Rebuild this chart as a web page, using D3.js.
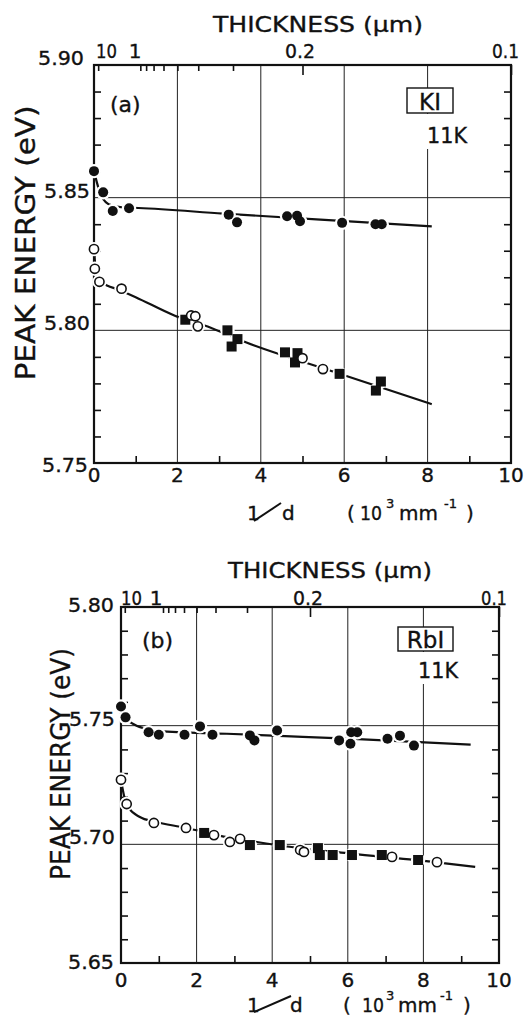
<!DOCTYPE html>
<html><head><meta charset="utf-8">
<script src="https://cdn.jsdelivr.net/npm/d3@7"></script>
<style>
body{margin:0;background:#fff}
svg{display:block}
text{font-family:"DejaVu Sans","Liberation Sans",Arial,sans-serif;fill:#111;stroke:#111;stroke-width:0.35}
</style>
</head><body>
<svg id="c" width="530" height="1019"></svg>
<script>
// ---------- shared axis data ----------
const xMajorTicks=[0,2,4,6,8,10];
const xGridValues=[2,4,6,8];
const xMinorValues=[1,3,5,7,9];
const thicknessLabels=["10","1","0.2","0.1"];
const thicknessLabelValues=[10,1,0.2,0.1];
const thicknessMinor=[10,0.9,0.8,0.7,0.6,0.5,0.4,0.3];
const thicknessLong=[0.2,0.1];

// ---------- (a) KI ----------
const kiYLabels=["5.90","5.85","5.80","5.75"];
const kiYLabelValues=[5.90,5.85,5.80,5.75];
const kiYGrid=[5.85,5.80];
const kiYMinor=[5.89,5.88,5.87,5.86,5.84,5.83,5.82,5.81,5.79,5.78,5.77,5.76];
const kiFilledCircles=[[0,5.860],[0.22,5.852],[0.45,5.845],[0.84,5.846],[3.23,5.8436],[3.43,5.8407],[4.63,5.843],[4.87,5.8432],[4.94,5.8411],[5.95,5.8405],[6.75,5.840],[6.9,5.840]];
const kiOpenCircles=[[0,5.8306],[0.02,5.8232],[0.13,5.8183],[0.66,5.8157],[2.33,5.8056],[2.43,5.8053],[2.49,5.8015],[5.0,5.7895],[5.49,5.7854]];
const kiSquares=[[2.19,5.804],[3.2,5.800],[3.44,5.7967],[3.3,5.7939],[4.58,5.7917],[4.88,5.7914],[4.82,5.7879],[5.89,5.7836],[6.88,5.7807],[6.76,5.7773]];
const kiFitUpper=[[0,5.860],[0.12,5.853],[0.35,5.8475],[0.7,5.8463],[1.07,5.8461],[3.1,5.844],[5.43,5.8417],[8.1,5.8392]];
const kiFitLower=[[0,5.831],[0.05,5.822],[0.2,5.818],[0.6,5.8153],[1.0,5.8125],[1.94,5.8055],[2.8,5.801],[3.64,5.7955],[5.49,5.7857],[8.1,5.7722]];

// ---------- (b) RbI ----------
const rbiYLabels=["5.80","5.75","5.70","5.65"];
const rbiYLabelValues=[5.80,5.75,5.70,5.65];
const rbiYGrid=[5.75,5.70];
const rbiYMinor=[5.79,5.78,5.77,5.76,5.74,5.73,5.72,5.71,5.69,5.68,5.67,5.66];
const rbiFilledCircles=[[0,5.7581],[0.12,5.7535],[0.73,5.7472],[1.0,5.7462],[1.68,5.7462],[2.09,5.7497],[2.42,5.7462],[3.41,5.7459],[3.53,5.7438],[4.13,5.748],[5.77,5.7438],[6.07,5.7424],[6.09,5.7472],[6.25,5.7472],[7.05,5.7445],[7.38,5.7458],[7.75,5.7416]];
const rbiOpenCircles=[[0,5.7272],[0.15,5.717],[0.87,5.709],[1.72,5.7069],[2.46,5.7039],[2.88,5.701],[3.15,5.7023],[4.74,5.6976],[4.84,5.6968],[7.17,5.6947],[8.36,5.6925]];
const rbiSquares=[[2.2,5.7048],[3.41,5.6997],[4.2,5.6997],[5.21,5.6984],[5.26,5.6955],[5.6,5.6955],[6.11,5.6955],[6.9,5.6955],[7.86,5.6934]];
const rbiFitUpper=[[0,5.758],[0.1,5.7535],[0.35,5.7505],[0.7,5.7485],[1.0,5.7477],[2.8,5.7466],[4.5,5.7455],[6.0,5.7445],[9.25,5.742]];
const rbiFitLower=[[0,5.7272],[0.08,5.7205],[0.2,5.7155],[0.5,5.7115],[0.9,5.7095],[1.7,5.707],[2.5,5.704],[4.2,5.6995],[6,5.6962],[8.3,5.6925],[9.37,5.6905]];

// ---------- layout ----------
const panels=[
 {id:"a",left:94,right:511,top:65,bottom:463,yDomain:[5.75,5.90],
  yLabels:kiYLabels,yLabelValues:kiYLabelValues,yGrid:kiYGrid,yMinor:kiYMinor,
  filled:kiFilledCircles,open:kiOpenCircles,squares:kiSquares,fits:[kiFitUpper,kiFitLower],
  title:{x:213,y:32,len:210},topLabelY:58,
  yLabelDy:[0,0,0,9],yLabelEnd:[84,90,90,88],
  yTitle:{x:35,y:243,len:275,size:26},
  tag:"(a)",tagPos:[110,112],
  box:{label:"KI",x:407,y:88,w:46,h:25},k11:{x:427,y:143},
  bottomLabelY:482,
  xt:{y:520,one:247,slash:[254,521,281,503],d:282,par1:347,ten:360,three:386,mm:399,m1:444,par2:466},
  topLabelPos:[[96,"start",21],[135,"middle",0],[300,"middle",30],[492,"start",27]]},
 {id:"b",left:121,right:499,top:607,bottom:963,yDomain:[5.65,5.80],
  yLabels:rbiYLabels,yLabelValues:rbiYLabelValues,yGrid:rbiYGrid,yMinor:rbiYMinor,
  filled:rbiFilledCircles,open:rbiOpenCircles,squares:rbiSquares,fits:[rbiFitUpper,rbiFitLower],
  title:{x:228,y:578,len:204},topLabelY:605,
  yLabelDy:[5,0,0,6],yLabelEnd:[114,115,115,114],
  yTitle:{x:70,y:764,len:232,size:26},
  tag:"(b)",tagPos:[142,648],
  box:{label:"RbI",x:398,y:627,w:55,h:24},k11:{x:418,y:678},
  bottomLabelY:987,
  xt:{y:1012,one:247,slash:[254,1012,291,996],d:290,par1:343,ten:362,three:386,mm:398,m1:440,par2:463},
  topLabelPos:[[121,"start",21],[156,"middle",0],[308,"middle",30],[481,"start",26]]}
];

const svg=d3.select("#c");

panels.forEach(p=>{
  const x=d3.scaleLinear().domain([0,10]).range([p.left,p.right]);
  const y=d3.scaleLinear().domain(p.yDomain).range([p.bottom,p.top]);
  const g=svg.append("g");

  // gridlines
  g.selectAll(".vg").data(xGridValues).join("line")
    .attr("x1",d=>x(d)).attr("x2",d=>x(d)).attr("y1",p.top).attr("y2",p.bottom)
    .attr("stroke","#222").attr("stroke-width",1);
  g.selectAll(".hg").data(p.yGrid).join("line")
    .attr("x1",p.left).attr("x2",p.right).attr("y1",d=>y(d)).attr("y2",d=>y(d))
    .attr("stroke","#222").attr("stroke-width",1);

  // axes ticks (inward) via d3 axes
  const tickStyle=sel=>{sel.select(".domain").remove();sel.selectAll("text").remove();
    sel.selectAll("line").attr("stroke","#111").attr("stroke-width",1.6);};
  g.append("g").attr("transform",`translate(0,${p.bottom})`)
    .call(d3.axisBottom(x).tickValues(xMinorValues).tickSize(-7)).call(tickStyle);
  g.append("g").attr("transform",`translate(${p.left},0)`)
    .call(d3.axisLeft(y).tickValues(p.yMinor).tickSize(-7)).call(tickStyle);
  g.append("g").attr("transform",`translate(${p.right},0)`)
    .call(d3.axisRight(y).tickValues(p.yMinor).tickSize(-7)).call(tickStyle);
  // thickness ticks on top (position = 1/thickness on x scale)
  g.append("g").attr("transform",`translate(0,${p.top})`)
    .call(d3.axisTop(x).tickValues(thicknessMinor.map(t=>1/t)).tickSize(-6)).call(tickStyle);
  g.append("g").attr("transform",`translate(0,${p.top})`)
    .call(d3.axisTop(x).tickValues(thicknessLong.map(t=>1/t)).tickSize(-10)).call(tickStyle);

  // frame
  g.append("rect").attr("x",p.left).attr("y",p.top).attr("width",p.right-p.left).attr("height",p.bottom-p.top)
    .attr("fill","none").attr("stroke","#111").attr("stroke-width",2.2);

  // fit lines
  const line=d3.line().x(d=>x(d[0])).y(d=>y(d[1])).curve(d3.curveMonotoneX);
  g.selectAll(".fit").data(p.fits).join("path").attr("d",line)
    .attr("fill","none").attr("stroke","#111").attr("stroke-width",2.2);

  // halos
  const all=[...p.filled.map(d=>["c",d]),...p.open.map(d=>["c",d]),...p.squares.map(d=>["s",d])];
  g.selectAll(".halo").data(all).join("circle")
    .attr("cx",d=>x(d[1][0])).attr("cy",d=>y(d[1][1])).attr("r",7.2).attr("fill","#fff");
  // markers
  g.selectAll(".sq").data(p.squares).join("rect")
    .attr("x",d=>x(d[0])-5).attr("y",d=>y(d[1])-5).attr("width",10).attr("height",10).attr("fill","#111");
  g.selectAll(".fc").data(p.filled).join("circle")
    .attr("cx",d=>x(d[0])).attr("cy",d=>y(d[1])).attr("r",5).attr("fill","#111");
  g.selectAll(".oc").data(p.open).join("circle")
    .attr("cx",d=>x(d[0])).attr("cy",d=>y(d[1])).attr("r",4.6).attr("fill","#fff")
    .attr("stroke","#111").attr("stroke-width",1.6);

  // top title
  g.append("text").attr("x",p.title.x).attr("y",p.title.y).attr("font-size",22)
    .attr("textLength",p.title.len).attr("lengthAdjust","spacingAndGlyphs").text("THICKNESS  (µm)");
  // top tick labels
  thicknessLabels.forEach((t,i)=>{
    const tx=g.append("text").attr("x",p.topLabelPos[i][0]).attr("y",p.topLabelY)
      .attr("text-anchor",p.topLabelPos[i][1]).attr("font-size",20).text(t);
    if(p.topLabelPos[i][2]) tx.attr("textLength",p.topLabelPos[i][2]).attr("lengthAdjust","spacingAndGlyphs");
  });
  // bottom tick labels
  g.selectAll(".xl").data(xMajorTicks).join("text")
    .attr("x",d=>x(d)).attr("y",p.bottomLabelY).attr("text-anchor","middle").attr("font-size",20)
    .text(d=>d);
  // y labels
  p.yLabels.forEach((t,i)=>{
    g.append("text").attr("x",p.yLabelEnd[i]).attr("y",y(p.yLabelValues[i])+p.yLabelDy[i])
      .attr("text-anchor","end").attr("font-size",20).attr("textLength",46).attr("lengthAdjust","spacingAndGlyphs").text(t);
  });
  // y title
  g.append("text").attr("transform",`translate(${p.yTitle.x},${p.yTitle.y}) rotate(-90)`)
    .attr("text-anchor","middle").attr("font-size",p.yTitle.size)
    .attr("textLength",p.yTitle.len).attr("lengthAdjust","spacingAndGlyphs").text("PEAK  ENERGY  (eV)");
  // panel tag
  g.append("text").attr("x",p.tagPos[0]).attr("y",p.tagPos[1]).attr("font-size",22).text(p.tag);
  // box label
  g.append("rect").attr("x",p.box.x).attr("y",p.box.y).attr("width",p.box.w).attr("height",p.box.h)
    .attr("fill","#fff").attr("stroke","#111").attr("stroke-width",1.4);
  g.append("text").attr("x",p.box.x+p.box.w/2).attr("y",p.box.y+p.box.h-3).attr("text-anchor","middle")
    .attr("font-size",23).text(p.box.label);
  g.append("rect").attr("x",p.k11.x-3).attr("y",p.box.y+p.box.h+1).attr("width",46).attr("height",p.k11.y-p.box.y-p.box.h+5).attr("fill","#fff");
  g.append("text").attr("x",p.k11.x).attr("y",p.k11.y).attr("font-size",21).attr("textLength",40).attr("lengthAdjust","spacingAndGlyphs").text("11K");

  // x title: 1/d (10^3 mm^-1)
  const t=p.xt;
  g.append("text").attr("x",t.one).attr("y",t.y).attr("font-size",20).text("1");
  g.append("line").attr("x1",t.slash[0]).attr("y1",t.slash[1]).attr("x2",t.slash[2]).attr("y2",t.slash[3])
    .attr("stroke","#111").attr("stroke-width",2);
  g.append("text").attr("x",t.d).attr("y",t.y).attr("font-size",20).text("d");
  g.append("text").attr("x",t.par1).attr("y",t.y).attr("font-size",20).text("(");
  g.append("text").attr("x",t.ten).attr("y",t.y).attr("font-size",20).attr("textLength",22).attr("lengthAdjust","spacingAndGlyphs").text("10");
  g.append("text").attr("x",t.three).attr("y",t.y-12).attr("font-size",13).text("3");
  g.append("text").attr("x",t.mm).attr("y",t.y).attr("font-size",20).text("mm");
  g.append("text").attr("x",t.m1).attr("y",t.y-12).attr("font-size",13).text("-1");
  g.append("text").attr("x",t.par2).attr("y",t.y).attr("font-size",20).text(")");
});
</script>
</body></html>
